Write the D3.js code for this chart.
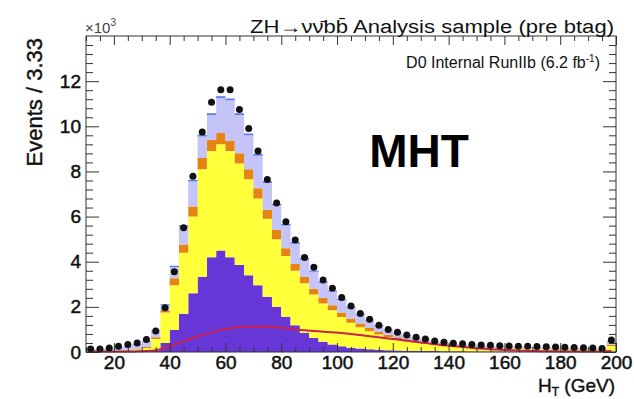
<!DOCTYPE html>
<html><head><meta charset="utf-8">
<script src="https://cdn.jsdelivr.net/npm/d3@7"></script>
<style>
body{margin:0;background:#fff;}
svg{display:block;font-family:"Liberation Sans",Arial,Helvetica,sans-serif;}
</style>
</head><body>
<svg id="c" width="634" height="399"></svg>
<script>
// ---- data (values in units of 10^3 events per 3.33 GeV bin) ----
const xMin = 10, xMax = 200, nBins = 57;
const yMax = 14;
const xTicks = [20,40,60,80,100,120,140,160,180,200];
const yTicks = [0,2,4,6,8,10,12];

const dataVals = [0.13,0.13,0.18,0.25,0.33,0.40,0.55,0.93,1.96,3.55,
 5.50,7.79,9.75,11.07,11.62,11.62,10.74,9.90,8.90,7.64,
 6.60,5.77,4.96,4.19,3.75,3.19,2.82,2.42,2.04,1.71,
 1.45,1.19,1.00,0.87,0.75,0.65,0.58,0.49,0.43,0.39,
 0.36,0.33,0.31,0.30,0.28,0.27,0.26,0.25,0.24,0.23,
 0.22,0.21,0.20,0.19,0.18,0.16,0.53];

const purpleVals = [0.01,0.01,0.01,0.01,0.01,0.02,0.03,0.08,0.40,0.97,
 1.70,2.60,3.33,4.20,4.50,4.20,3.85,3.40,2.96,2.45,
 2.00,1.56,1.19,0.85,0.62,0.45,0.33,0.25,0.19,0.15,
 0.12,0.10,0.08,0.07,0.06,0.05,0.04,0.04,0.03,0.03,
 0.03,0.02,0.02,0.02,0.02,0.02,0.02,0.02,0.01,0.01,
 0.01,0.01,0.01,0.01,0.01,0.01,0.02];

const yellowVals = [0.02,0.02,0.03,0.04,0.06,0.09,0.15,0.50,1.35,1.99,
 2.70,3.40,4.77,4.70,4.70,4.70,4.50,4.25,3.84,3.45,
 3.00,2.69,2.41,2.20,1.93,1.70,1.52,1.30,1.11,0.95,
 0.80,0.67,0.57,0.49,0.42,0.36,0.31,0.26,0.23,0.20,
 0.18,0.17,0.16,0.15,0.14,0.13,0.12,0.12,0.11,0.11,
 0.10,0.10,0.09,0.09,0.08,0.08,0.25];

const orangeVals = [0.01,0.01,0.01,0.02,0.02,0.03,0.04,0.07,0.10,0.31,
 0.35,0.45,0.50,0.50,0.50,0.45,0.45,0.45,0.45,0.40,
 0.40,0.35,0.30,0.27,0.25,0.25,0.22,0.20,0.18,0.16,
 0.14,0.12,0.10,0.09,0.08,0.07,0.06,0.05,0.05,0.04,
 0.04,0.04,0.03,0.03,0.03,0.03,0.03,0.02,0.02,0.02,
 0.02,0.02,0.02,0.02,0.02,0.02,0.05];

const lavenderVals = [0.06,0.07,0.09,0.12,0.16,0.19,0.25,0.30,0.23,0.50,
 0.80,1.10,0.95,1.10,1.55,1.80,1.70,1.50,1.45,1.20,
 1.10,1.00,0.90,0.78,0.75,0.68,0.61,0.55,0.48,0.40,
 0.34,0.28,0.22,0.18,0.15,0.13,0.12,0.10,0.09,0.08,
 0.07,0.07,0.07,0.06,0.06,0.06,0.05,0.05,0.05,0.05,
 0.05,0.04,0.04,0.04,0.04,0.04,0.12];

const blueVals = [0.01,0.01,0.01,0.01,0.02,0.02,0.03,0.03,0.04,0.05,
 0.06,0.08,0.08,0.08,0.08,0.08,0.08,0.08,0.08,0.08,
 0.07,0.07,0.07,0.06,0.06,0.05,0.05,0.05,0.04,0.04,
 0.03,0.03,0.03,0.02,0.02,0.02,0.02,0.02,0.01,0.01,
 0.01,0.01,0.01,0.01,0.01,0.01,0.01,0.01,0.01,0.01,
 0.01,0.01,0.01,0.01,0.01,0.01,0.02];

const redLineVals = [0.02,0.02,0.02,0.02,0.02,0.03,0.04,0.08,0.18,0.33,
 0.48,0.62,0.76,0.88,0.98,1.05,1.10,1.12,1.12,1.12,
 1.10,1.06,1.00,0.96,0.93,0.90,0.87,0.84,0.80,0.75,
 0.70,0.65,0.60,0.55,0.50,0.45,0.40,0.35,0.30,0.26,
 0.22,0.18,0.15,0.12,0.10,0.08,0.06,0.05,0.04,0.03,
 0.03,0.02,0.02,0.02,0.02,0.02,0.04];

const layerKeys = ["purple","yellow","orange","lavender","blue"];
const layerColors = {purple:"#6636d6", yellow:"#ffff3a", orange:"#e58412", lavender:"#c4c4f8", blue:"#5a7ce6"};

// ---- layout ----
const svg = d3.select("#c");
const L = 86, R = 616, T = 36, B = 352;
const x = d3.scaleLinear().domain([xMin, xMax]).range([L, R]);
const y = d3.scaleLinear().domain([0, yMax]).range([B, T]);
const bw = (xMax - xMin) / nBins;

const rows = dataVals.map((d, i) => ({
  x0: xMin + i * bw, x1: xMin + (i + 1) * bw, xc: xMin + (i + 0.5) * bw,
  data: d, purple: purpleVals[i], yellow: yellowVals[i], orange: orangeVals[i],
  lavender: lavenderVals[i], blue: blueVals[i], red: redLineVals[i]
}));

const stacked = d3.stack().keys(layerKeys)(rows);
const area = d3.area().x(p => x(p.x)).y0(p => y(p.lo)).y1(p => y(p.hi));

const plot = svg.append("g");
stacked.forEach(layer => {
  const pts = [];
  layer.forEach((s, i) => {
    pts.push({x: rows[i].x0, lo: s[0], hi: s[1]});
    pts.push({x: rows[i].x1, lo: s[0], hi: s[1]});
  });
  plot.append("path").attr("d", area(pts)).attr("fill", layerColors[layer.key]).attr("stroke", "none");
});

// red curve
const line = d3.line().x(d => x(d.xc)).y(d => y(d.red)).curve(d3.curveMonotoneX);
plot.append("path").attr("d", line(rows)).attr("fill", "none").attr("stroke", "#cc2250").attr("stroke-width", 2);

// data points
plot.selectAll("circle.pt").data(rows).join("circle").attr("class", "pt")
  .attr("cx", d => x(d.xc)).attr("cy", d => y(d.data)).attr("r", 3.5).attr("fill", "#111");

// ---- axes / frame ----
const axisColor = "#333";
function styleAxis(g, fs) {
  g.select(".domain").remove();
  g.selectAll("line").attr("stroke", axisColor);
  g.selectAll("text").attr("fill", "#111").attr("stroke", "#111").attr("stroke-width", 0.5).style("font-size", fs + "px");
}
const yMinor = d3.range(0, yMax + 0.001, 0.4).filter(v => Math.abs(v / 2 - Math.round(v / 2)) > 1e-6);
const xMinor = d3.range(10, 200.001, 5).filter(v => xTicks.indexOf(v) < 0);

svg.append("g").attr("transform", `translate(${L},0)`)
  .call(d3.axisLeft(y).tickValues(yTicks).tickSizeInner(-13).tickSizeOuter(0).tickPadding(5).tickFormat(d3.format("d")))
  .call(g => styleAxis(g, 19));
svg.append("g").attr("transform", `translate(${L},0)`)
  .call(d3.axisLeft(y).tickValues(yMinor).tickSizeInner(-7).tickSizeOuter(0).tickFormat(""))
  .call(g => styleAxis(g, 10));
svg.append("g").attr("transform", `translate(${R},0)`)
  .call(d3.axisRight(y).tickValues(yTicks).tickSizeInner(-13).tickSizeOuter(0).tickFormat(""))
  .call(g => styleAxis(g, 10));
svg.append("g").attr("transform", `translate(${R},0)`)
  .call(d3.axisRight(y).tickValues(yMinor).tickSizeInner(-7).tickSizeOuter(0).tickFormat(""))
  .call(g => styleAxis(g, 10));

svg.append("g").attr("transform", `translate(0,${B})`)
  .call(d3.axisBottom(x).tickValues(xTicks).tickSizeInner(-9).tickSizeOuter(0).tickPadding(4).tickFormat(d3.format("d")))
  .call(g => styleAxis(g, 19));
svg.append("g").attr("transform", `translate(0,${B})`)
  .call(d3.axisBottom(x).tickValues(xMinor).tickSizeInner(-5).tickSizeOuter(0).tickFormat(""))
  .call(g => styleAxis(g, 10));
svg.append("g").attr("transform", `translate(0,${T})`)
  .call(d3.axisTop(x).tickValues(xTicks).tickSizeInner(-9).tickSizeOuter(0).tickFormat(""))
  .call(g => styleAxis(g, 10));
svg.append("g").attr("transform", `translate(0,${T})`)
  .call(d3.axisTop(x).tickValues(xMinor).tickSizeInner(-5).tickSizeOuter(0).tickFormat(""))
  .call(g => styleAxis(g, 10));

svg.append("rect").attr("x", L).attr("y", T).attr("width", R - L).attr("height", B - T)
  .attr("fill", "none").attr("stroke", axisColor).attr("stroke-width", 1);

// ---- texts ----
const ex = svg.append("text").attr("x", L - 1).attr("y", 33).attr("fill", "#444").style("font-size", "15px");
ex.append("tspan").text("×10");
ex.append("tspan").attr("dy", -7).style("font-size", "10px").text("3");

svg.append("text").attr("x", 250).attr("y", 33).attr("fill", "#111").style("font-size", "18px")
  .attr("textLength", 364).attr("lengthAdjust", "spacingAndGlyphs")
  .text("ZH→νν̄bb̄ Analysis sample (pre btag)");

const lum = svg.append("text").attr("x", 600).attr("y", 68).attr("text-anchor", "end").attr("fill", "#111").style("font-size", "16px");
lum.append("tspan").text("D0 Internal RunIIb (6.2 fb");
lum.append("tspan").attr("dy", -6).style("font-size", "10px").text("-1");
lum.append("tspan").attr("dy", 6).text(")");

svg.append("text").attr("x", 419).attr("y", 167).attr("text-anchor", "middle")
  .attr("fill", "#000").style("font-size", "46px").style("font-weight", "bold").text("MHT");

svg.append("text").attr("transform", "translate(42,38) rotate(-90)").attr("text-anchor", "end")
  .attr("fill", "#111").attr("stroke", "#111").attr("stroke-width", 0.4)
  .style("font-size", "22px").text("Events / 3.33");

const xl = svg.append("text").attr("x", 615).attr("y", 392).attr("text-anchor", "end")
  .attr("fill", "#111").attr("stroke", "#111").attr("stroke-width", 0.4).style("font-size", "19px");
xl.append("tspan").text("H");
xl.append("tspan").attr("dy", 4).style("font-size", "12px").text("T");
xl.append("tspan").attr("dy", -4).text(" (GeV)");
</script>
</body></html>
